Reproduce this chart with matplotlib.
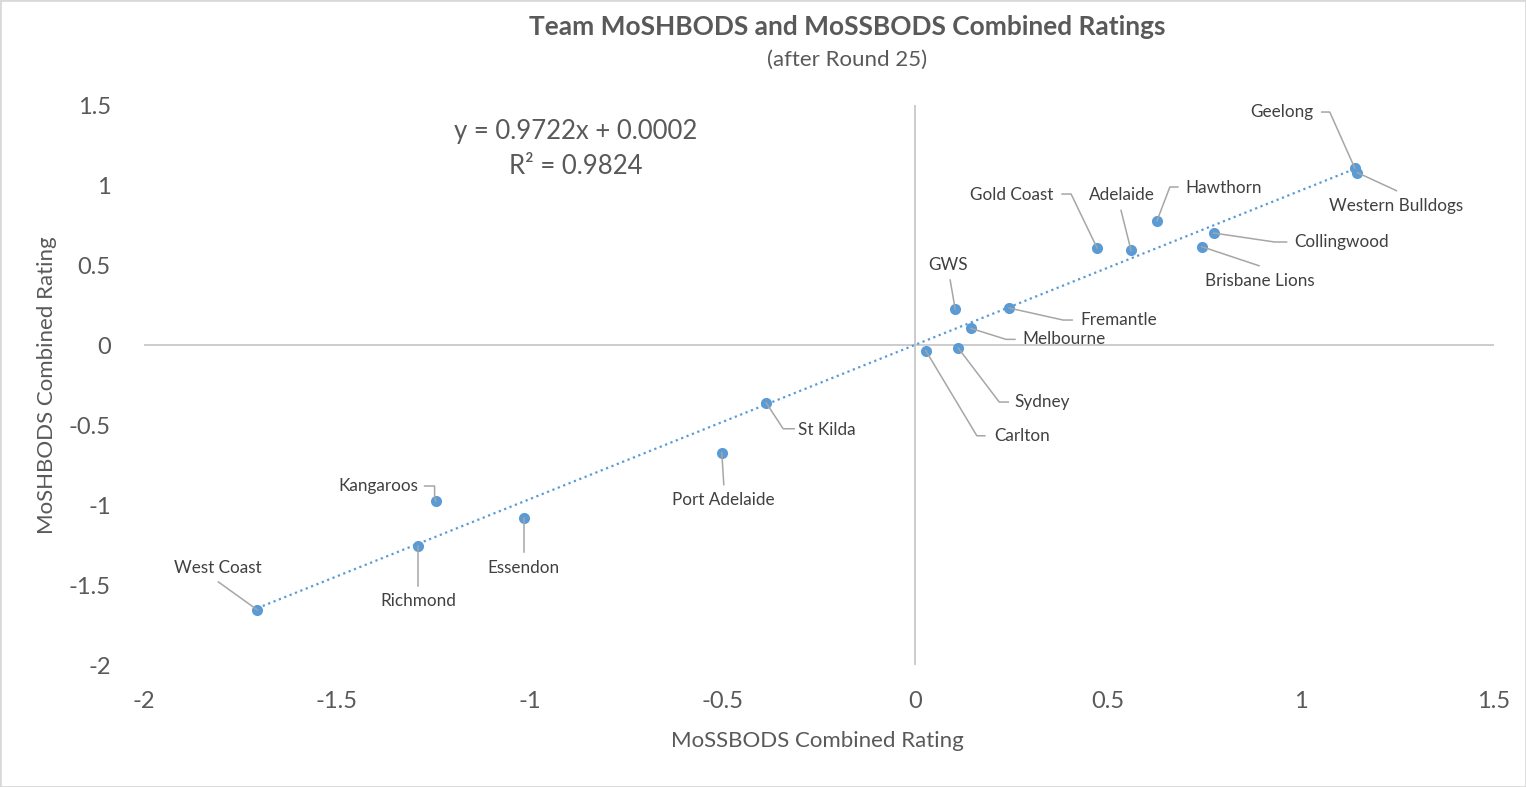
import matplotlib.pyplot as plt
import numpy as np
from matplotlib.lines import Line2D
from matplotlib.patches import Rectangle

plt.rcParams["font.family"] = ["Lato", "DejaVu Sans"]

teams = [
    "West Coast", "Richmond", "Kangaroos", "Essendon", "Port Adelaide", "St Kilda",
    "Carlton", "Sydney", "GWS", "Melbourne", "Fremantle", "Gold Coast", "Adelaide",
    "Hawthorn", "Brisbane Lions", "Collingwood", "Geelong", "Western Bulldogs",
]
mossbods = [
    -1.706, -1.290, -1.244, -1.015, -0.502, -0.387,
    0.027, 0.111, 0.103, 0.144, 0.243, 0.471, 0.559,
    0.626, 0.743, 0.773, 1.139, 1.146,
]
moshbods = [
    -1.656, -1.254, -0.975, -1.079, -0.673, -0.361,
    -0.036, -0.019, 0.225, 0.104, 0.231, 0.606, 0.591,
    0.775, 0.614, 0.700, 1.106, 1.077,
]
ticks = [-2, -1.5, -1, -0.5, 0, 0.5, 1, 1.5]
tick_labels = ["-2", "-1.5", "-1", "-0.5", "0", "0.5", "1", "1.5"]

# label centre offset and leader vertices, in image pixels from the point (y down)
label_layout = {
    "West Coast": ((-40, -42), [(-39, -28)]),
    "Richmond": ((0, 55), [(0, 40)]),
    "Kangaroos": ((-57, -15), [(-1, -6), (-1, -15), (-11, -15)]),
    "Essendon": ((0, 50), [(0, 34)]),
    "Port Adelaide": ((2, 47), [(2, 32)]),
    "St Kilda": ((61, 27), [(17, 26), (28, 26)]),
    "Carlton": ((96, 85), [(51, 85), (59, 85)]),
    "Sydney": ((84, 54), [(41, 54), (50, 54)]),
    "GWS": ((-7, -44), [(-5, -29)]),
    "Melbourne": ((93, 11), [(35, 11), (44, 11)]),
    "Fremantle": ((110, 12), [(54, 12), (63, 12)]),
    "Gold Coast": ((-85, -53), [(-26, -54), (-35, -54)]),
    "Adelaide": ((-9, -55), [(-10, -40)]),
    "Hawthorn": ((67, -33), [(13, -34), (21, -34)]),
    "Brisbane Lions": ((58, 34), [(57, 19)]),
    "Collingwood": ((128, 9), [(61, 9), (73, 9)]),
    "Geelong": ((-73, -56), [(-25, -56), (-33, -56)]),
    "Western Bulldogs": ((39, 33), [(39, 18)]),
}

BLUE = "#5b9bd5"
GREY_LINE = "#bfbfbf"
LEADER = "#a6a6a6"
TEXT = "#595959"
LABEL = "#404040"

W, H = 1526, 787
fig = plt.figure(figsize=(W / 100, H / 100), dpi=100)
fig.patches.append(Rectangle((0, 0), 1, 1, transform=fig.transFigure, fill=False,
                             edgecolor="#d9d9d9", linewidth=2))
ax = fig.add_axes([144 / W, (H - 665) / H, 1350 / W, 560 / H])
ax.set_xlim(-2, 1.5)
ax.set_ylim(-2, 1.5)
for spine in ax.spines.values():
    spine.set_visible(False)
ax.axhline(0, color=GREY_LINE, lw=1.1, zorder=1)
ax.axvline(0, color=GREY_LINE, lw=1.1, zorder=1)

ax.set_xticks(ticks)
ax.set_xticklabels(tick_labels)
ax.set_yticks(ticks)
ax.set_yticklabels(tick_labels)
ax.tick_params(axis="x", length=0, pad=19, labelsize=17, labelcolor=TEXT)
ax.tick_params(axis="y", length=0, pad=24, labelsize=17, labelcolor=TEXT)

x = np.array(mossbods)
y = np.array(moshbods)
slope, intercept = np.polyfit(x, y, 1)
xs = np.array([x.min(), x.max()])
ax.plot(xs, slope * xs + intercept, color=BLUE, lw=1.6, ls=(0, (1, 1.6)), zorder=2)
ax.scatter(x, y, s=64, color=BLUE, zorder=4, linewidths=0)

fig.canvas.draw()
for name, xv, yv in zip(teams, mossbods, moshbods):
    (tx, ty), leader = label_layout[name]
    px, py = ax.transData.transform((xv, yv))
    verts = [(px, py)] + [(px + dx, py - dy) for dx, dy in leader]
    vx, vy = zip(*verts)
    fig.add_artist(Line2D(vx, vy, transform=None, color=LEADER, lw=1.1, zorder=3))
    ax.annotate(name, (xv, yv), xytext=(tx, -ty), textcoords="offset pixels",
                ha="center", va="center", fontsize=12.3, color=LABEL, zorder=5)

ax.text((576 - 144) / 1350, (665 - 132) / 560, "y = 0.9722x + 0.0002",
        transform=ax.transAxes, ha="center", va="center", fontsize=18.5, color=TEXT)
ax.text((576 - 144) / 1350, (665 - 167) / 560, "R² = 0.9824",
        transform=ax.transAxes, ha="center", va="center", fontsize=18.5, color=TEXT)

fig.text(847 / W, 1 - 27 / H, "Team MoSHBODS and MoSSBODS Combined Ratings",
         ha="center", va="center", fontsize=18.9, fontweight="bold", color=TEXT)
fig.text(847 / W, 1 - 60 / H, "(after Round 25)",
         ha="center", va="center", fontsize=16, color=TEXT)
fig.text(817 / W, 1 - 741 / H, "MoSSBODS Combined Rating",
         ha="center", va="center", fontsize=16, color=TEXT)
fig.text(47 / W, 1 - 385 / H, "MoSHBODS Combined Rating", rotation=90,
         ha="center", va="center", fontsize=16, color=TEXT)

fig.savefig("out.png", dpi=100)
